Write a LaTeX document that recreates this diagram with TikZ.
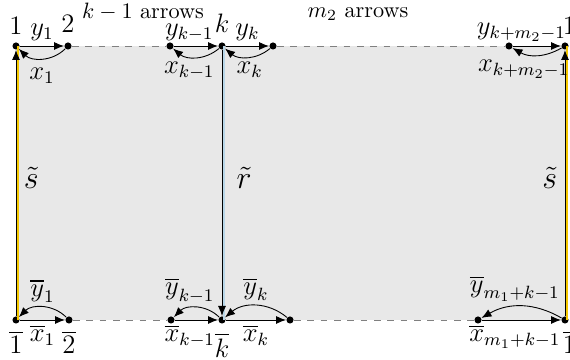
\documentclass[tikz,border=0pt]{standalone}
\usepackage{amsmath,amssymb}
\usetikzlibrary{positioning,arrows.meta}
\definecolor{sideyellow}{RGB}{245,200,0}
\definecolor{midblue}{RGB}{185,215,232}

\begin{document}
\begin{tikzpicture}[
  x=0.45pt,y=0.45pt,
  pt/.style={circle,fill=black,inner sep=0pt,minimum size=3.2pt},
  edge/.style={-{Latex[length=4.5pt,width=3.6pt]},thin},
  gap/.style={dashed,gray,thin},
  side/.style={sideyellow,line width=1.1pt},
  mid/.style={midblue,line width=1.1pt},
  lab/.style={font=\large,inner sep=2pt},
  big/.style={font=\Large}
 ]
  \useasboundingbox (0,0) rectangle (570,360);
  \fill[black!9] (16,40) rectangle (565,314);
  % top row
  \node[pt] (v1) at (16,314) {};
  \node[pt] (v2) at (68,314) {};
  \node[pt] (vkm) at (170,314) {};
  \node[pt] (vk) at (222,314) {};
  \node[pt] (vkp) at (273,314) {};
  \node[pt] (vl) at (509,314) {};
  \node[pt] (v1r) at (565,314) {};
  % bottom row
  \node[pt] (w1) at (16,40) {};
  \node[pt] (w2) at (69,40) {};
  \node[pt] (wkm) at (171,40) {};
  \node[pt] (wk) at (222,40) {};
  \node[pt] (wkp) at (290,40) {};
  \node[pt] (wl) at (478,40) {};
  \node[pt] (w1r) at (565,40) {};
  % vertex names
  \node[lab,above=1pt of v1] (n1) {$1$};
  \node[lab,above=2pt of v2] (n2) {$2$};
  \node[lab,above=2pt of vk] (nk) {$k$};
  \node[lab,above=1pt of v1r,xshift=2pt] (n1r) {$1$};
  \node[lab,below=1pt of w1] (m1) {$\overline{1}$};
  \node[lab,below=1pt of w2] (m2) {$\overline{2}$};
  \node[lab,below=2pt of wk] (mk) {$\overline{k}$};
  \node[lab,below=1pt of w1r,xshift=2pt] (m1r) {$\overline{1}$};
  \node[inner sep=0pt] (cnt1) at (143,348) {$k-1$ arrows};
  \node[inner sep=0pt] (cnt2) at (358,346) {$m_2$ arrows};
  % gaps
  \draw[gap] (v2) -- (vkm);
  \draw[gap] (vkp) -- (vl);
  \draw[gap] (w2) -- (wkm);
  \draw[gap] (wkp) -- (wl);
  % sides
  \draw[side] ([xshift=0.8pt]w1.center) -- ([xshift=0.8pt]v1.center);
  \draw[side] ([xshift=0.8pt]w1r.center) -- ([xshift=0.8pt]v1r.center);
  \draw[mid] ([xshift=0.8pt]vk.center) -- ([xshift=0.8pt]wk.center);
  \draw[edge] (w1) -- node[big,right,pos=0.52] (ts1) {$\tilde{s}$} (v1);
  \draw[edge] (w1r) -- node[big,left,pos=0.52] (ts2) {$\tilde{s}$} (v1r);
  \draw[edge] (vk) -- node[big,right=3pt,pos=0.48] (tr) {$\tilde{r}$} (wk);
  % top arrows
  \draw[edge] (v1) -- node[lab,above] (ly1) {$y_1$} (v2);
  \draw[edge] (v2) to[bend left=45] node[lab,below=2pt] (lx1) {$x_1$} (v1);
  \draw[edge] (vkm) -- node[lab,inner sep=1pt,above=1pt,xshift=-3pt] (lykm) {$y_{k-1}$} (vk);
  \draw[edge] (vk) to[bend left=40] node[lab,below,xshift=-3pt] (lxkm) {$x_{k-1}$} (vkm);
  \draw[edge] (vk) -- node[lab,above] (lyk) {$y_k$} (vkp);
  \draw[edge] (vkp) to[bend left=40] node[lab,below,xshift=1pt] (lxk) {$x_k$} (vk);
  \draw[edge] (vl) -- node[lab,above,xshift=-7pt] (lyl) {$y_{k+m_2-1}$} (v1r);
  \draw[edge] (v1r) to[bend left=30] node[lab,below,xshift=-6pt] (lxl) {$x_{k+m_2-1}$} (vl);
  % bottom arrows
  \draw[edge] (w1) -- node[lab,below] (lbx1) {$\overline{x}_1$} (w2);
  \draw[edge] (w2) to[bend right=45] node[lab,above] (lby1) {$\overline{y}_1$} (w1);
  \draw[edge] (wkm) -- node[lab,below,xshift=-3pt] (lbxkm) {$\overline{x}_{k-1}$} (wk);
  \draw[edge] (wk) to[bend right=45] node[lab,above,xshift=-3pt] (lbykm) {$\overline{y}_{k-1}$} (wkm);
  \draw[edge] (wk) -- node[lab,below] (lbxk) {$\overline{x}_k$} (wkp);
  \draw[edge] (wkp) to[bend right=40] node[lab,above] (lbyk) {$\overline{y}_k$} (wk);
  \draw[edge] (wl) -- node[lab,below,xshift=-3pt] (lbxl) {$\overline{x}_{m_1+k-1}$} (w1r);
  \draw[edge] (w1r) to[bend right=30] node[lab,above,xshift=-3pt] (lbyl) {$\overline{y}_{m_1+k-1}$} (wl);
\end{tikzpicture}
\end{document}
